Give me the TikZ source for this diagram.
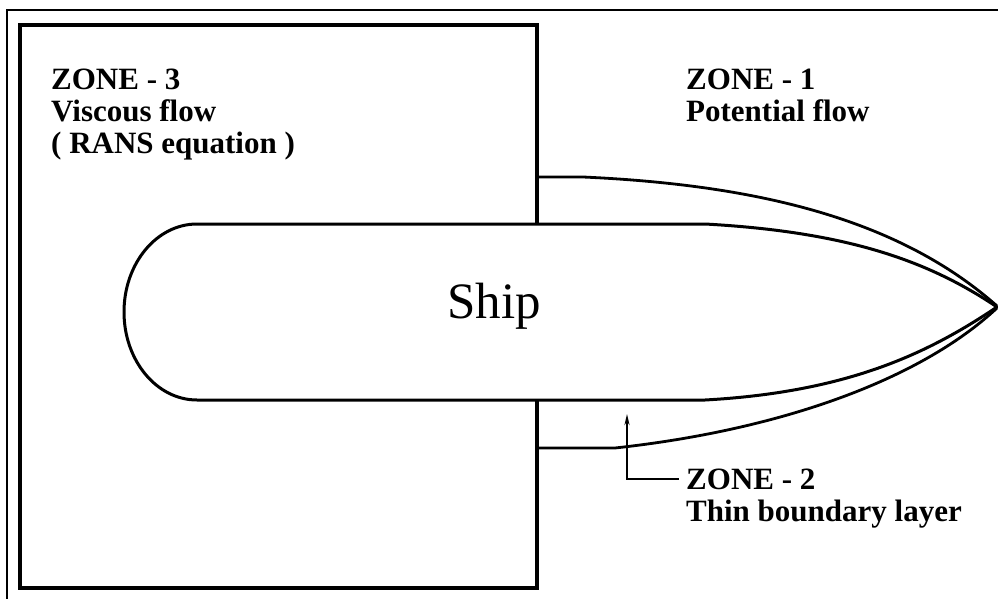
\documentclass[tikz,border=0pt]{standalone}
\usepackage{fontspec}
\setmainfont{Liberation Serif}
\usetikzlibrary{arrows.meta,calc}

\begin{document}
\begin{tikzpicture}[x=1pt, y=-1pt,
    frame/.style={draw, line width=2.4pt},
    zonebox/.style={draw, line width=3.2pt},
    hull/.style={draw, line width=3pt, fill=white},
    layer/.style={draw, line width=2.8pt},
    zonetext/.style={anchor=north west, inner sep=0pt, align=left, font=\fontsize{31}{32}\selectfont\bfseries},
    leader/.style={{Stealth[length=11pt,width=5pt]}-, line width=2.6pt}
]
\useasboundingbox (0,0) rectangle (998,599);

% Outer frame
\draw[frame] (7,10) rectangle (1012,612);

% Zone 3 box
\draw[zonebox] (20,25) rectangle (537,588);

% Boundary layer (zone 2)
\draw[layer] (537,177) -- (583,177) .. controls (760,185) and (900,220) .. (997,306);
\draw[layer] (537,448) -- (615,448) .. controls (780,430) and (920,380) .. (997,308);

% Ship hull
\draw[hull] (197,224) -- (705,224) .. controls (850,232) and (930,262) .. (997,307)
    .. controls (930,352) and (850,392) .. (705,400) -- (197,400)
    arc[start angle=90, end angle=270, x radius=73, y radius=88] -- cycle;
\node[anchor=base, inner sep=0pt, font=\fontsize{51}{60}\selectfont] (ship) at (494,318) {Ship};

% Zone labels
\node[zonetext] (zonethree) at (51,69) {ZONE - 3\\Viscous flow\\( RANS equation )};
\node[zonetext] (zoneone) at (686,69) {ZONE - 1\\Potential flow};
\node[zonetext] (zonetwo) at (686,469) {ZONE - 2\\Thin boundary layer};

% Pointer into the boundary layer
\coordinate (tip) at (627,414);
\draw[leader] (tip) |- ($(zonetwo.north west)+(-7,10)$);

\end{tikzpicture}
\end{document}
